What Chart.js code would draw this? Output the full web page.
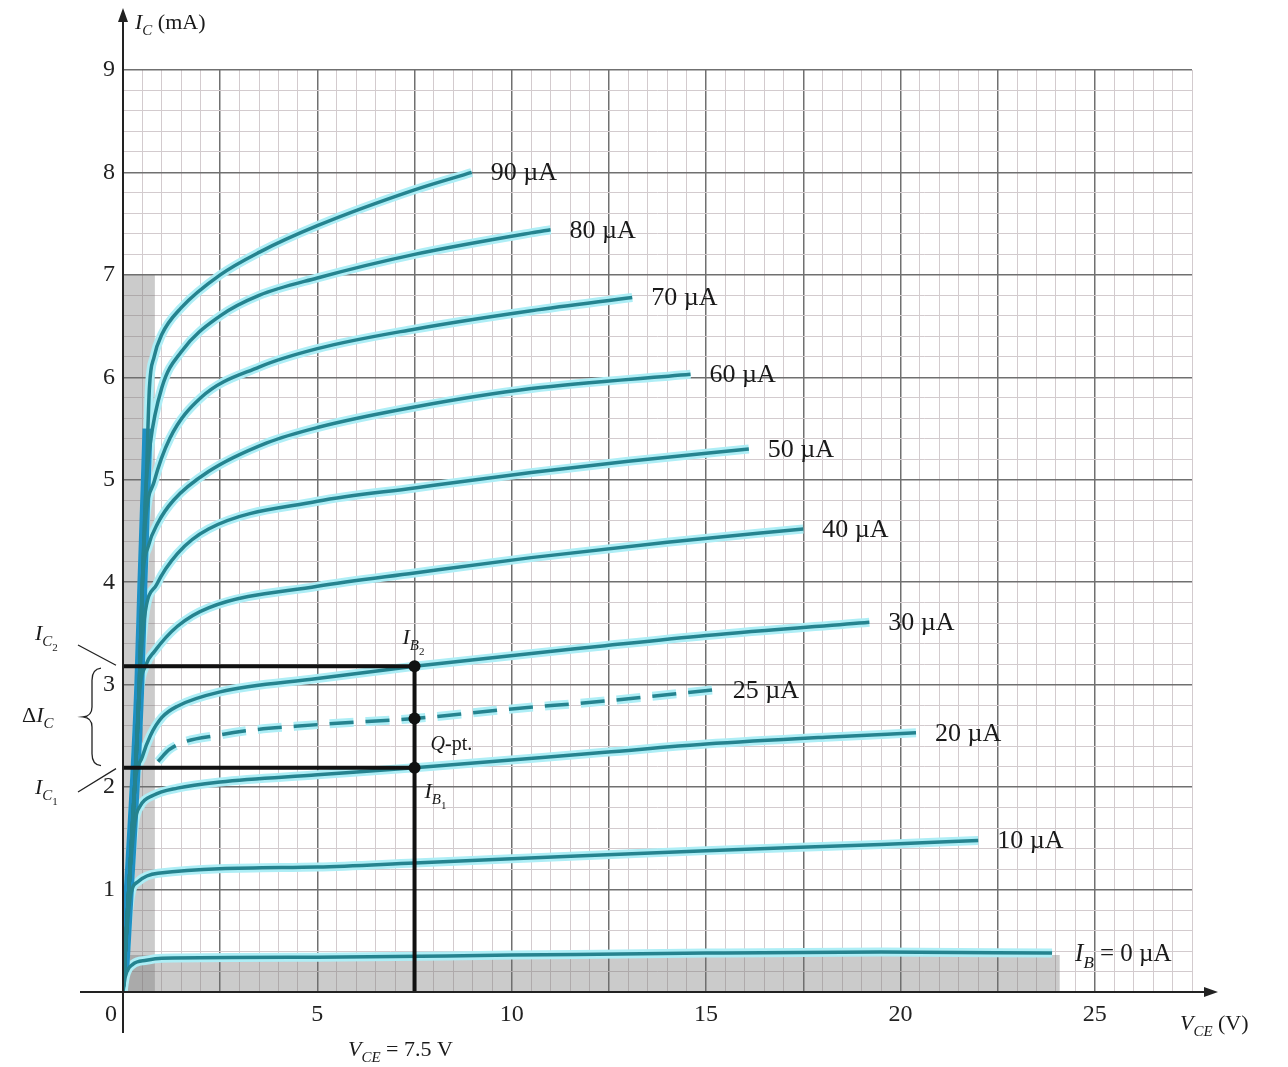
<!DOCTYPE html>
<html>
<head>
<meta charset="utf-8">
<script src="https://cdn.jsdelivr.net/npm/chart.js@4.4.1/dist/chart.umd.min.js"></script>
<style>
  html, body { margin: 0; padding: 0; background: #fff; }
  canvas { display: block; }
</style>
</head>
<body>
<canvas id="chart" width="1288" height="1067"></canvas>
<script>
// base current of each output curve, in µA
const baseCurrents = [0, 10, 20, 25, 30, 40, 50, 60, 70, 80, 90];
const curveLabels = ['0 µA', '10 µA', '20 µA', '25 µA', '30 µA', '40 µA', '50 µA', '60 µA', '70 µA', '80 µA', '90 µA'];

// [VCE (V), IC (mA)]
const ib0 = [[0, 0], [0.06, 0.15], [0.25, 0.27], [0.6, 0.31], [1, 0.33], [5, 0.34], [10, 0.36], [15, 0.38], [19.5, 0.39], [23.9, 0.38]];
const ib10 = [[0, 0], [0.1, 0.6], [0.2, 0.95], [0.4, 1.08], [0.9, 1.16], [5, 1.22], [7.5, 1.26], [10, 1.3], [15, 1.38], [19.5, 1.44], [22, 1.48]];
const ib20 = [[0, 0], [0.15, 1.0], [0.3, 1.65], [0.45, 1.82], [0.78, 1.92], [1.4, 1.99], [2.5, 2.05], [5, 2.12], [7.5, 2.19], [12.4, 2.34], [15, 2.42], [18.2, 2.49], [20.4, 2.53]];
const ib25 = [[0.9, 2.25], [1.2, 2.37], [2.5, 2.51], [5, 2.61], [7.5, 2.67], [9.9, 2.76], [12.4, 2.84], [15.2, 2.95]];
const ib30 = [[0, 0], [0.15, 1.0], [0.3, 2.0], [0.5, 2.3], [0.7, 2.5], [1.0, 2.68], [1.4, 2.79], [2.5, 2.93], [5, 3.06], [7.5, 3.18], [12.4, 3.38], [15, 3.48], [19.2, 3.61]];
const ib40 = [[0, 0], [0.15, 1.0], [0.3, 2.0], [0.42, 2.9], [0.6, 3.2], [0.8, 3.32], [1.4, 3.57], [2.2, 3.75], [5, 3.96], [7.5, 4.09], [10.5, 4.24], [14, 4.39], [17.5, 4.52]];
const ib50 = [[0, 0], [0.15, 1.0], [0.3, 2.0], [0.42, 3.0], [0.55, 3.65], [0.87, 3.98], [1.4, 4.28], [2.2, 4.52], [5, 4.79], [7.5, 4.92], [10.5, 5.07], [13, 5.18], [16.1, 5.3]];
const ib60 = [[0, 0], [0.15, 1.0], [0.3, 2.0], [0.42, 3.0], [0.5, 4.0], [0.65, 4.35], [0.9, 4.58], [1.3, 4.8], [2.2, 5.08], [3.7, 5.36], [5, 5.51], [7.5, 5.71], [10.5, 5.89], [14.6, 6.03]];
const ib70 = [[0, 0], [0.15, 1.0], [0.3, 2.0], [0.42, 3.0], [0.5, 4.0], [0.58, 4.6], [0.8, 4.98], [1.2, 5.4], [2.0, 5.8], [3.5, 6.1], [5, 6.28], [7.5, 6.47], [10.5, 6.65], [13.1, 6.78]];
const ib80 = [[0, 0], [0.15, 1.0], [0.3, 2.0], [0.42, 3.0], [0.5, 4.0], [0.58, 4.85], [0.7, 5.35], [1.0, 5.9], [1.5, 6.25], [2.5, 6.6], [3.5, 6.8], [5, 6.97], [7.5, 7.2], [10.5, 7.41], [11, 7.44]];
const ib90 = [[0, 0], [0.15, 1.0], [0.3, 2.0], [0.42, 3.0], [0.5, 4.0], [0.6, 5.0], [0.68, 5.9], [0.8, 6.2], [1.0, 6.42], [1.5, 6.68], [2.5, 7.0], [3.5, 7.22], [5, 7.48], [7.5, 7.83], [8.97, 8.0]];
const curves = [ib0, ib10, ib20, ib25, ib30, ib40, ib50, ib60, ib70, ib80, ib90];

// where all curves crowd together near VCE = 0
const steepBand = [[0.03, 0.2], [0.15, 1.0], [0.3, 2.0], [0.42, 3.0], [0.5, 4.0], [0.58, 4.9], [0.63, 5.5]];

// shaded saturation and cut-off regions
const saturationRegion = [[0, 7], [0.82, 7]];
const cutoffRegion = [[0, 0.36], [24.1, 0.36]];

// operating point construction
const vceQ = 7.5;
const icQ = 2.67;
const ic1 = 2.19;
const ic2 = 3.18;

const xMax = 27.5;
const yMax = 9;
const xLabelStep = 5;

const SERIF = '"Liberation Serif", "Times New Roman", serif';
const toXY = pts => pts.map(([x, y]) => ({ x, y }));
const near = (v, step) => Math.abs(v / step - Math.round(v / step)) < 1e-6;

const datasets = [];
datasets.push({ data: toXY(saturationRegion), fill: 'origin', backgroundColor: 'rgba(110,110,110,0.36)', borderWidth: 0, pointRadius: 0, order: 10 });
datasets.push({ data: toXY(cutoffRegion), fill: 'origin', backgroundColor: 'rgba(110,110,110,0.36)', borderWidth: 0, pointRadius: 0, order: 10 });

curves.forEach((pts, i) => {
  const dash = baseCurrents[i] === 25 ? [24, 12] : [];
  datasets.push({ data: toXY(pts), borderColor: '#aeeef6', borderWidth: 9, borderDash: dash, pointRadius: 0, fill: false, cubicInterpolationMode: 'monotone', order: 4 });
  datasets.push({ data: toXY(pts), borderColor: '#25838f', borderWidth: 3.5, borderDash: dash, pointRadius: 0, fill: false, cubicInterpolationMode: 'monotone', order: 3, curveIndex: i });
});
datasets.push({ data: toXY(steepBand), borderColor: '#1e90c4', borderWidth: 10, pointRadius: 0, fill: false, cubicInterpolationMode: 'monotone', order: 3.5 });

// black construction lines and the three points on VCE = 7.5 V
datasets.push({ data: toXY([[0, ic2], [vceQ, ic2]]), borderColor: '#111', borderWidth: 4, pointRadius: 0, order: 1 });
datasets.push({ data: toXY([[0, ic1], [vceQ, ic1]]), borderColor: '#111', borderWidth: 4, pointRadius: 0, order: 1 });
datasets.push({ data: toXY([[vceQ, 0], [vceQ, ic2]]), borderColor: '#111', borderWidth: 4, pointRadius: 0, order: 1 });
datasets.push({ data: toXY([[vceQ, ic2], [vceQ, icQ], [vceQ, ic1]]), showLine: false, pointRadius: 6, pointBackgroundColor: '#111', pointBorderWidth: 0, order: 0 });

function rich(ctx, x, y, parts, size) {
  let cx = x;
  for (const [t, s] of parts) {
    let fs = size, dy = 0;
    if (s.includes('s')) { fs = size * 0.68; dy = size * 0.28; }
    if (s.includes('x')) { fs = size * 0.5; dy = size * 0.5; }
    ctx.font = (s.includes('i') ? 'italic ' : '') + fs + 'px ' + SERIF;
    ctx.fillText(t, cx, y + dy);
    cx += ctx.measureText(t).width;
  }
}

const annotations = {
  id: 'annotations',
  afterDatasetsDraw(chart) {
    const ctx = chart.ctx;
    const xs = chart.scales.x, ys = chart.scales.y;
    const x0 = xs.getPixelForValue(0), y0 = ys.getPixelForValue(0);
    ctx.save();

    // axes with arrows
    ctx.strokeStyle = '#222';
    ctx.fillStyle = '#222';
    ctx.lineWidth = 2;
    ctx.beginPath();
    ctx.moveTo(x0, 1033); ctx.lineTo(x0, 14);
    ctx.moveTo(80, y0); ctx.lineTo(1212, y0);
    ctx.stroke();
    ctx.beginPath();
    ctx.moveTo(x0, 8); ctx.lineTo(x0 - 5, 22); ctx.lineTo(x0 + 5, 22); ctx.closePath();
    ctx.moveTo(1218, y0); ctx.lineTo(1204, y0 - 5); ctx.lineTo(1204, y0 + 5); ctx.closePath();
    ctx.fill();

    // curve labels
    ctx.fillStyle = '#1a1a1a';
    ctx.textAlign = 'left';
    ctx.textBaseline = 'alphabetic';
    chart.data.datasets.forEach(ds => {
      if (ds.curveIndex === undefined) return;
      const last = ds.data[ds.data.length - 1];
      const px = xs.getPixelForValue(last.x) + 19;
      const py = ys.getPixelForValue(last.y) + 8;
      if (baseCurrents[ds.curveIndex] === 0) {
        rich(ctx, px + 4, py, [['I', 'i'], ['B', 'is'], [' = ' + curveLabels[0], 'n']], 25);
      } else {
        rich(ctx, px, py, [[curveLabels[ds.curveIndex], 'n']], 26);
      }
    });

    // axis titles and notes
    rich(ctx, 135, 29, [['I', 'i'], ['C', 'is'], [' (mA)', 'n']], 22);
    rich(ctx, 1180, 1030, [['V', 'i'], ['CE', 'is'], [' (V)', 'n']], 22);
    rich(ctx, 348, 1056, [['V', 'i'], ['CE', 'is'], [' = 7.5 V', 'n']], 22);

    const yc2 = ys.getPixelForValue(ic2), yc1 = ys.getPixelForValue(ic1);
    const xq = xs.getPixelForValue(vceQ), yq = ys.getPixelForValue(icQ);
    rich(ctx, xq - 12, yc2 - 22, [['I', 'i'], ['B', 'is'], ['2', 'x']], 22);
    rich(ctx, xq + 10, yc1 + 30, [['I', 'i'], ['B', 'is'], ['1', 'x']], 22);
    rich(ctx, xq + 16, yq + 32, [['Q', 'i'], ['-pt.', 'n']], 20);
    rich(ctx, 35, 640, [['I', 'i'], ['C', 'is'], ['2', 'x']], 22);
    rich(ctx, 35, 794, [['I', 'i'], ['C', 'is'], ['1', 'x']], 22);
    rich(ctx, 22, 722, [['Δ', 'n'], ['I', 'i'], ['C', 'is']], 22);

    // leader lines and brace for ΔIC
    ctx.strokeStyle = '#222';
    ctx.lineWidth = 1.3;
    ctx.beginPath();
    ctx.moveTo(78, 645); ctx.lineTo(116, yc2 - 1);
    ctx.moveTo(78, 792); ctx.lineTo(116, yc1 + 1);
    ctx.stroke();
    const bt = yc2 + 2, bb = yc1 - 2, bm = (bt + bb) / 2;
    ctx.beginPath();
    ctx.moveTo(101, bt);
    ctx.quadraticCurveTo(92, bt + 1, 92, bt + 12);
    ctx.lineTo(92, bm - 10);
    ctx.quadraticCurveTo(92, bm - 1, 83, bm);
    ctx.quadraticCurveTo(92, bm + 1, 92, bm + 10);
    ctx.lineTo(92, bb - 12);
    ctx.quadraticCurveTo(92, bb - 1, 101, bb);
    ctx.stroke();
    ctx.restore();
  }
};

new Chart(document.getElementById('chart').getContext('2d'), {
  type: 'line',
  data: { datasets },
  plugins: [annotations],
  options: {
    responsive: false,
    animation: false,
    devicePixelRatio: 1,
    layout: { padding: { left: 0, top: 70, right: 96, bottom: 0 } },
    plugins: { legend: { display: false }, tooltip: { enabled: false } },
    elements: { line: { tension: 0 } },
    scales: {
      x: {
        type: 'linear',
        min: 0,
        max: xMax,
        afterFit: s => { s.height = 75; },
        border: { display: false },
        grid: {
          drawTicks: false,
          color: c => (near(c.tick.value, 2.5) && c.tick.value < xMax - 0.1) ? '#707070' : '#d3cbce',
          lineWidth: c => (near(c.tick.value, 2.5) && c.tick.value < xMax - 0.1) ? 1.5 : 1
        },
        ticks: {
          stepSize: 0.5,
          autoSkip: false,
          maxRotation: 0,
          padding: 8,
          color: '#222',
          font: { family: SERIF, size: 24 },
          callback: v => {
            if (!near(v, xLabelStep) || v > 25.1) return '';
            return v === 0 ? '0\u2007\u2007' : String(Math.round(v));
          }
        }
      },
      y: {
        min: 0,
        max: yMax,
        afterFit: s => { s.width = 123; },
        border: { display: false },
        grid: {
          drawTicks: false,
          color: c => near(c.tick.value, 1) ? '#707070' : '#d3cbce',
          lineWidth: c => near(c.tick.value, 1) ? 1.5 : 1
        },
        ticks: {
          stepSize: 0.2,
          autoSkip: false,
          padding: 8,
          color: '#222',
          font: { family: SERIF, size: 24 },
          callback: v => (near(v, 1) && v > 0.5) ? String(Math.round(v)) : ''
        }
      }
    }
  }
});
</script>
</body>
</html>
